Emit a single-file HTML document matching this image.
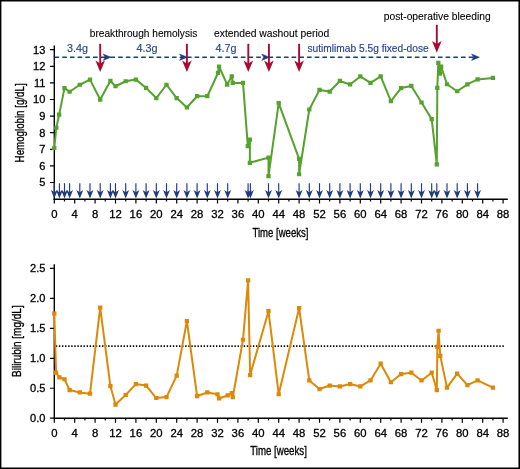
<!DOCTYPE html>
<html lang="en"><head><meta charset="utf-8"><title>Hemoglobin and bilirubin over time</title>
<style>html,body{margin:0;padding:0;background:#fff;overflow:hidden}svg{display:block}</style></head>
<body>
<svg width="520" height="469" viewBox="0 0 520 469" font-family="'Liberation Sans', Arial, Helvetica, sans-serif">
<rect x="0" y="0" width="520" height="469" fill="#fff"/>
<path d="M0 0H520V469H0zM1.4 1.4V467.4H518.45V1.4z" fill="#000" fill-rule="evenodd"/>
<path d="M54.30 45.40V200.00" stroke="#000" stroke-width="1.4" fill="none"/>
<path d="M53.60 199.30H507.8" stroke="#000" stroke-width="1.4" fill="none"/>
<path d="M49.90 49.70H54.30M49.90 66.30H54.30M49.90 82.90H54.30M49.90 99.50H54.30M49.90 116.10H54.30M49.90 132.70H54.30M49.90 149.30H54.30M49.90 165.90H54.30M49.90 182.50H54.30M54.30 199.30v4.3M64.50 199.30v2.2M74.70 199.30v4.3M84.90 199.30v2.2M95.10 199.30v4.3M105.30 199.30v2.2M115.50 199.30v4.3M125.70 199.30v2.2M135.90 199.30v4.3M146.10 199.30v2.2M156.30 199.30v4.3M166.50 199.30v2.2M176.70 199.30v4.3M186.90 199.30v2.2M197.10 199.30v4.3M207.30 199.30v2.2M217.50 199.30v4.3M227.70 199.30v2.2M237.90 199.30v4.3M248.10 199.30v2.2M258.30 199.30v4.3M268.50 199.30v2.2M278.70 199.30v4.3M288.90 199.30v2.2M299.10 199.30v4.3M309.30 199.30v2.2M319.50 199.30v4.3M329.70 199.30v2.2M339.90 199.30v4.3M350.10 199.30v2.2M360.30 199.30v4.3M370.50 199.30v2.2M380.70 199.30v4.3M390.90 199.30v2.2M401.10 199.30v4.3M411.30 199.30v2.2M421.50 199.30v4.3M431.70 199.30v2.2M441.90 199.30v4.3M452.10 199.30v2.2M462.30 199.30v4.3M472.50 199.30v2.2M482.70 199.30v4.3M492.90 199.30v2.2M503.10 199.30v4.3" stroke="#000" stroke-width="1.2" fill="none"/>
<g font-size="10.3" fill="#000" stroke="#000" stroke-width="0.28" text-anchor="end">
<text transform="translate(45.4 53.55) scale(1.075 1)">13</text>
<text transform="translate(45.4 70.15) scale(1.075 1)">12</text>
<text transform="translate(45.4 86.75) scale(1.075 1)">11</text>
<text transform="translate(45.4 103.35) scale(1.075 1)">10</text>
<text transform="translate(45.4 119.95) scale(1.075 1)">9</text>
<text transform="translate(45.4 136.55) scale(1.075 1)">8</text>
<text transform="translate(45.4 153.15) scale(1.075 1)">7</text>
<text transform="translate(45.4 169.75) scale(1.075 1)">6</text>
<text transform="translate(45.4 186.35) scale(1.075 1)">5</text>
</g>
<g font-size="10.3" fill="#000" stroke="#000" stroke-width="0.28" text-anchor="middle">
<text transform="translate(54.30 217.50) scale(1.1 1)">0</text>
<text transform="translate(74.70 217.50) scale(1.1 1)">4</text>
<text transform="translate(95.10 217.50) scale(1.1 1)">8</text>
<text transform="translate(115.50 217.50) scale(1.1 1)">12</text>
<text transform="translate(135.90 217.50) scale(1.1 1)">16</text>
<text transform="translate(156.30 217.50) scale(1.1 1)">20</text>
<text transform="translate(176.70 217.50) scale(1.1 1)">24</text>
<text transform="translate(197.10 217.50) scale(1.1 1)">28</text>
<text transform="translate(217.50 217.50) scale(1.1 1)">32</text>
<text transform="translate(237.90 217.50) scale(1.1 1)">36</text>
<text transform="translate(258.30 217.50) scale(1.1 1)">40</text>
<text transform="translate(278.70 217.50) scale(1.1 1)">44</text>
<text transform="translate(299.10 217.50) scale(1.1 1)">48</text>
<text transform="translate(319.50 217.50) scale(1.1 1)">52</text>
<text transform="translate(339.90 217.50) scale(1.1 1)">56</text>
<text transform="translate(360.30 217.50) scale(1.1 1)">60</text>
<text transform="translate(380.70 217.50) scale(1.1 1)">64</text>
<text transform="translate(401.10 217.50) scale(1.1 1)">68</text>
<text transform="translate(421.50 217.50) scale(1.1 1)">72</text>
<text transform="translate(441.90 217.50) scale(1.1 1)">76</text>
<text transform="translate(462.30 217.50) scale(1.1 1)">80</text>
<text transform="translate(482.70 217.50) scale(1.1 1)">84</text>
<text transform="translate(503.10 217.50) scale(1.1 1)">88</text>
</g>
<path d="M54.30 264.20V418.90" stroke="#000" stroke-width="1.4" fill="none"/>
<path d="M53.60 418.20H507.8" stroke="#000" stroke-width="1.5" fill="none"/>
<path d="M49.90 268.45H54.30M49.90 298.40H54.30M49.90 328.35H54.30M49.90 358.30H54.30M49.90 388.25H54.30M49.90 418.20H54.30M54.30 418.20v4.5M64.50 418.20v2.3M74.70 418.20v4.5M84.90 418.20v2.3M95.10 418.20v4.5M105.30 418.20v2.3M115.50 418.20v4.5M125.70 418.20v2.3M135.90 418.20v4.5M146.10 418.20v2.3M156.30 418.20v4.5M166.50 418.20v2.3M176.70 418.20v4.5M186.90 418.20v2.3M197.10 418.20v4.5M207.30 418.20v2.3M217.50 418.20v4.5M227.70 418.20v2.3M237.90 418.20v4.5M248.10 418.20v2.3M258.30 418.20v4.5M268.50 418.20v2.3M278.70 418.20v4.5M288.90 418.20v2.3M299.10 418.20v4.5M309.30 418.20v2.3M319.50 418.20v4.5M329.70 418.20v2.3M339.90 418.20v4.5M350.10 418.20v2.3M360.30 418.20v4.5M370.50 418.20v2.3M380.70 418.20v4.5M390.90 418.20v2.3M401.10 418.20v4.5M411.30 418.20v2.3M421.50 418.20v4.5M431.70 418.20v2.3M441.90 418.20v4.5M452.10 418.20v2.3M462.30 418.20v4.5M472.50 418.20v2.3M482.70 418.20v4.5M492.90 418.20v2.3M503.10 418.20v4.5" stroke="#000" stroke-width="1.2" fill="none"/>
<g font-size="10.3" fill="#000" stroke="#000" stroke-width="0.28" text-anchor="end">
<text transform="translate(45.4 272.30) scale(1.075 1)">2.5</text>
<text transform="translate(45.4 302.25) scale(1.075 1)">2.0</text>
<text transform="translate(45.4 332.20) scale(1.075 1)">1.5</text>
<text transform="translate(45.4 362.15) scale(1.075 1)">1.0</text>
<text transform="translate(45.4 392.10) scale(1.075 1)">0.5</text>
<text transform="translate(45.4 422.05) scale(1.075 1)">0.0</text>
</g>
<g font-size="10.3" fill="#000" stroke="#000" stroke-width="0.28" text-anchor="middle">
<text transform="translate(54.30 436.70) scale(1.1 1)">0</text>
<text transform="translate(74.70 436.70) scale(1.1 1)">4</text>
<text transform="translate(95.10 436.70) scale(1.1 1)">8</text>
<text transform="translate(115.50 436.70) scale(1.1 1)">12</text>
<text transform="translate(135.90 436.70) scale(1.1 1)">16</text>
<text transform="translate(156.30 436.70) scale(1.1 1)">20</text>
<text transform="translate(176.70 436.70) scale(1.1 1)">24</text>
<text transform="translate(197.10 436.70) scale(1.1 1)">28</text>
<text transform="translate(217.50 436.70) scale(1.1 1)">32</text>
<text transform="translate(237.90 436.70) scale(1.1 1)">36</text>
<text transform="translate(258.30 436.70) scale(1.1 1)">40</text>
<text transform="translate(278.70 436.70) scale(1.1 1)">44</text>
<text transform="translate(299.10 436.70) scale(1.1 1)">48</text>
<text transform="translate(319.50 436.70) scale(1.1 1)">52</text>
<text transform="translate(339.90 436.70) scale(1.1 1)">56</text>
<text transform="translate(360.30 436.70) scale(1.1 1)">60</text>
<text transform="translate(380.70 436.70) scale(1.1 1)">64</text>
<text transform="translate(401.10 436.70) scale(1.1 1)">68</text>
<text transform="translate(421.50 436.70) scale(1.1 1)">72</text>
<text transform="translate(441.90 436.70) scale(1.1 1)">76</text>
<text transform="translate(462.30 436.70) scale(1.1 1)">80</text>
<text transform="translate(482.70 436.70) scale(1.1 1)">84</text>
<text transform="translate(503.10 436.70) scale(1.1 1)">88</text>
</g>
<text transform="translate(24.0 122.9) rotate(-90)" text-anchor="middle" font-size="13.6" fill="#000" stroke="#000" stroke-width="0.35" textLength="79" lengthAdjust="spacingAndGlyphs">Hemoglobin [g/dL]</text>
<text transform="translate(21.1 341.15) rotate(-90)" text-anchor="middle" font-size="13.6" fill="#000" stroke="#000" stroke-width="0.35" textLength="71.6" lengthAdjust="spacingAndGlyphs">Bilirubin [mg/dL]</text>
<text x="280.45" y="236.8" text-anchor="middle" font-size="13.6" fill="#000" stroke="#000" stroke-width="0.35" textLength="56.1" lengthAdjust="spacingAndGlyphs">Time [weeks]</text>
<text x="278.55" y="455.4" text-anchor="middle" font-size="13.6" fill="#000" stroke="#000" stroke-width="0.35" textLength="56.7" lengthAdjust="spacingAndGlyphs">Time [weeks]</text>
<path d="M54.50 57.2H105.40" stroke="#1f3b7c" stroke-width="1.4" stroke-dasharray="4.65 3.05" fill="none"/>
<path d="M110.40 57.2H181.90" stroke="#1f3b7c" stroke-width="1.4" stroke-dasharray="4.65 3.05" fill="none"/>
<path d="M186.90 57.2H263.50" stroke="#1f3b7c" stroke-width="1.4" stroke-dasharray="4.65 3.05" fill="none"/>
<path d="M268.50 57.2H473.50" stroke="#1f3b7c" stroke-width="1.4" stroke-dasharray="4.65 3.05" fill="none"/>
<path d="M111.00 57.20l-7.8 -3.2l2 3.2l-2 3.2z" fill="#1f3b7c" stroke="#1f3b7c" stroke-width="0.5" stroke-linejoin="round"/>
<path d="M187.40 57.20l-7.8 -3.2l2 3.2l-2 3.2z" fill="#1f3b7c" stroke="#1f3b7c" stroke-width="0.5" stroke-linejoin="round"/>
<path d="M269.50 57.20l-7.8 -3.2l2 3.2l-2 3.2z" fill="#1f3b7c" stroke="#1f3b7c" stroke-width="0.5" stroke-linejoin="round"/>
<path d="M479.40 57.20l-7.8 -3.2l2 3.2l-2 3.2z" fill="#1f3b7c" stroke="#1f3b7c" stroke-width="0.5" stroke-linejoin="round"/>
<path d="M54.30 183.2V193" stroke="#1f3b7c" stroke-width="1.15" fill="none"/>
<path d="M54.30 198.6l-3.45 -8.5l3.45 2.2l3.45 -2.2z" fill="#1f3b7c"/>
<path d="M59.40 183.2V193" stroke="#1f3b7c" stroke-width="1.15" fill="none"/>
<path d="M59.40 198.6l-3.45 -8.5l3.45 2.2l3.45 -2.2z" fill="#1f3b7c"/>
<path d="M64.50 183.2V193" stroke="#1f3b7c" stroke-width="1.15" fill="none"/>
<path d="M64.50 198.6l-3.45 -8.5l3.45 2.2l3.45 -2.2z" fill="#1f3b7c"/>
<path d="M69.60 183.2V193" stroke="#1f3b7c" stroke-width="1.15" fill="none"/>
<path d="M69.60 198.6l-3.45 -8.5l3.45 2.2l3.45 -2.2z" fill="#1f3b7c"/>
<path d="M79.80 183.2V193" stroke="#1f3b7c" stroke-width="1.15" fill="none"/>
<path d="M79.80 198.6l-3.45 -8.5l3.45 2.2l3.45 -2.2z" fill="#1f3b7c"/>
<path d="M90.00 183.2V193" stroke="#1f3b7c" stroke-width="1.15" fill="none"/>
<path d="M90.00 198.6l-3.45 -8.5l3.45 2.2l3.45 -2.2z" fill="#1f3b7c"/>
<path d="M100.20 183.2V193" stroke="#1f3b7c" stroke-width="1.15" fill="none"/>
<path d="M100.20 198.6l-3.45 -8.5l3.45 2.2l3.45 -2.2z" fill="#1f3b7c"/>
<path d="M110.40 183.2V193" stroke="#1f3b7c" stroke-width="1.15" fill="none"/>
<path d="M110.40 198.6l-3.45 -8.5l3.45 2.2l3.45 -2.2z" fill="#1f3b7c"/>
<path d="M115.50 183.2V193" stroke="#1f3b7c" stroke-width="1.15" fill="none"/>
<path d="M115.50 198.6l-3.45 -8.5l3.45 2.2l3.45 -2.2z" fill="#1f3b7c"/>
<path d="M125.70 183.2V193" stroke="#1f3b7c" stroke-width="1.15" fill="none"/>
<path d="M125.70 198.6l-3.45 -8.5l3.45 2.2l3.45 -2.2z" fill="#1f3b7c"/>
<path d="M135.90 183.2V193" stroke="#1f3b7c" stroke-width="1.15" fill="none"/>
<path d="M135.90 198.6l-3.45 -8.5l3.45 2.2l3.45 -2.2z" fill="#1f3b7c"/>
<path d="M146.10 183.2V193" stroke="#1f3b7c" stroke-width="1.15" fill="none"/>
<path d="M146.10 198.6l-3.45 -8.5l3.45 2.2l3.45 -2.2z" fill="#1f3b7c"/>
<path d="M156.30 183.2V193" stroke="#1f3b7c" stroke-width="1.15" fill="none"/>
<path d="M156.30 198.6l-3.45 -8.5l3.45 2.2l3.45 -2.2z" fill="#1f3b7c"/>
<path d="M166.50 183.2V193" stroke="#1f3b7c" stroke-width="1.15" fill="none"/>
<path d="M166.50 198.6l-3.45 -8.5l3.45 2.2l3.45 -2.2z" fill="#1f3b7c"/>
<path d="M176.70 183.2V193" stroke="#1f3b7c" stroke-width="1.15" fill="none"/>
<path d="M176.70 198.6l-3.45 -8.5l3.45 2.2l3.45 -2.2z" fill="#1f3b7c"/>
<path d="M186.90 183.2V193" stroke="#1f3b7c" stroke-width="1.15" fill="none"/>
<path d="M186.90 198.6l-3.45 -8.5l3.45 2.2l3.45 -2.2z" fill="#1f3b7c"/>
<path d="M197.10 183.2V193" stroke="#1f3b7c" stroke-width="1.15" fill="none"/>
<path d="M197.10 198.6l-3.45 -8.5l3.45 2.2l3.45 -2.2z" fill="#1f3b7c"/>
<path d="M207.30 183.2V193" stroke="#1f3b7c" stroke-width="1.15" fill="none"/>
<path d="M207.30 198.6l-3.45 -8.5l3.45 2.2l3.45 -2.2z" fill="#1f3b7c"/>
<path d="M217.50 183.2V193" stroke="#1f3b7c" stroke-width="1.15" fill="none"/>
<path d="M217.50 198.6l-3.45 -8.5l3.45 2.2l3.45 -2.2z" fill="#1f3b7c"/>
<path d="M227.70 183.2V193" stroke="#1f3b7c" stroke-width="1.15" fill="none"/>
<path d="M227.70 198.6l-3.45 -8.5l3.45 2.2l3.45 -2.2z" fill="#1f3b7c"/>
<path d="M248.10 183.2V193" stroke="#1f3b7c" stroke-width="1.15" fill="none"/>
<path d="M248.10 198.6l-3.45 -8.5l3.45 2.2l3.45 -2.2z" fill="#1f3b7c"/>
<path d="M250.39 183.2V193" stroke="#1f3b7c" stroke-width="1.15" fill="none"/>
<path d="M250.39 198.6l-3.45 -8.5l3.45 2.2l3.45 -2.2z" fill="#1f3b7c"/>
<path d="M268.50 183.2V193" stroke="#1f3b7c" stroke-width="1.15" fill="none"/>
<path d="M268.50 198.6l-3.45 -8.5l3.45 2.2l3.45 -2.2z" fill="#1f3b7c"/>
<path d="M278.70 183.2V193" stroke="#1f3b7c" stroke-width="1.15" fill="none"/>
<path d="M278.70 198.6l-3.45 -8.5l3.45 2.2l3.45 -2.2z" fill="#1f3b7c"/>
<path d="M299.10 183.2V193" stroke="#1f3b7c" stroke-width="1.15" fill="none"/>
<path d="M299.10 198.6l-3.45 -8.5l3.45 2.2l3.45 -2.2z" fill="#1f3b7c"/>
<path d="M309.30 183.2V193" stroke="#1f3b7c" stroke-width="1.15" fill="none"/>
<path d="M309.30 198.6l-3.45 -8.5l3.45 2.2l3.45 -2.2z" fill="#1f3b7c"/>
<path d="M319.50 183.2V193" stroke="#1f3b7c" stroke-width="1.15" fill="none"/>
<path d="M319.50 198.6l-3.45 -8.5l3.45 2.2l3.45 -2.2z" fill="#1f3b7c"/>
<path d="M329.70 183.2V193" stroke="#1f3b7c" stroke-width="1.15" fill="none"/>
<path d="M329.70 198.6l-3.45 -8.5l3.45 2.2l3.45 -2.2z" fill="#1f3b7c"/>
<path d="M339.90 183.2V193" stroke="#1f3b7c" stroke-width="1.15" fill="none"/>
<path d="M339.90 198.6l-3.45 -8.5l3.45 2.2l3.45 -2.2z" fill="#1f3b7c"/>
<path d="M350.10 183.2V193" stroke="#1f3b7c" stroke-width="1.15" fill="none"/>
<path d="M350.10 198.6l-3.45 -8.5l3.45 2.2l3.45 -2.2z" fill="#1f3b7c"/>
<path d="M360.30 183.2V193" stroke="#1f3b7c" stroke-width="1.15" fill="none"/>
<path d="M360.30 198.6l-3.45 -8.5l3.45 2.2l3.45 -2.2z" fill="#1f3b7c"/>
<path d="M370.50 183.2V193" stroke="#1f3b7c" stroke-width="1.15" fill="none"/>
<path d="M370.50 198.6l-3.45 -8.5l3.45 2.2l3.45 -2.2z" fill="#1f3b7c"/>
<path d="M380.70 183.2V193" stroke="#1f3b7c" stroke-width="1.15" fill="none"/>
<path d="M380.70 198.6l-3.45 -8.5l3.45 2.2l3.45 -2.2z" fill="#1f3b7c"/>
<path d="M390.90 183.2V193" stroke="#1f3b7c" stroke-width="1.15" fill="none"/>
<path d="M390.90 198.6l-3.45 -8.5l3.45 2.2l3.45 -2.2z" fill="#1f3b7c"/>
<path d="M401.10 183.2V193" stroke="#1f3b7c" stroke-width="1.15" fill="none"/>
<path d="M401.10 198.6l-3.45 -8.5l3.45 2.2l3.45 -2.2z" fill="#1f3b7c"/>
<path d="M411.30 183.2V193" stroke="#1f3b7c" stroke-width="1.15" fill="none"/>
<path d="M411.30 198.6l-3.45 -8.5l3.45 2.2l3.45 -2.2z" fill="#1f3b7c"/>
<path d="M421.50 183.2V193" stroke="#1f3b7c" stroke-width="1.15" fill="none"/>
<path d="M421.50 198.6l-3.45 -8.5l3.45 2.2l3.45 -2.2z" fill="#1f3b7c"/>
<path d="M431.70 183.2V193" stroke="#1f3b7c" stroke-width="1.15" fill="none"/>
<path d="M431.70 198.6l-3.45 -8.5l3.45 2.2l3.45 -2.2z" fill="#1f3b7c"/>
<path d="M436.80 183.2V193" stroke="#1f3b7c" stroke-width="1.15" fill="none"/>
<path d="M436.80 198.6l-3.45 -8.5l3.45 2.2l3.45 -2.2z" fill="#1f3b7c"/>
<path d="M447.00 183.2V193" stroke="#1f3b7c" stroke-width="1.15" fill="none"/>
<path d="M447.00 198.6l-3.45 -8.5l3.45 2.2l3.45 -2.2z" fill="#1f3b7c"/>
<path d="M457.20 183.2V193" stroke="#1f3b7c" stroke-width="1.15" fill="none"/>
<path d="M457.20 198.6l-3.45 -8.5l3.45 2.2l3.45 -2.2z" fill="#1f3b7c"/>
<path d="M467.40 183.2V193" stroke="#1f3b7c" stroke-width="1.15" fill="none"/>
<path d="M467.40 198.6l-3.45 -8.5l3.45 2.2l3.45 -2.2z" fill="#1f3b7c"/>
<path d="M477.60 183.2V193" stroke="#1f3b7c" stroke-width="1.15" fill="none"/>
<path d="M477.60 198.6l-3.45 -8.5l3.45 2.2l3.45 -2.2z" fill="#1f3b7c"/>
<path d="M100.20 43.8V67.5" stroke="#aa0a32" stroke-width="1.9" fill="none"/>
<path d="M100.20 72.1l-4.8 -11.6l4.8 2.9l4.8 -2.9z" fill="#aa0a32"/>
<path d="M186.90 43.8V67.5" stroke="#aa0a32" stroke-width="1.9" fill="none"/>
<path d="M186.90 72.1l-4.8 -11.6l4.8 2.9l4.8 -2.9z" fill="#aa0a32"/>
<path d="M248.30 43.8V67.5" stroke="#aa0a32" stroke-width="1.9" fill="none"/>
<path d="M248.30 72.1l-4.8 -11.6l4.8 2.9l4.8 -2.9z" fill="#aa0a32"/>
<path d="M268.91 43.8V67.5" stroke="#aa0a32" stroke-width="1.9" fill="none"/>
<path d="M268.91 72.1l-4.8 -11.6l4.8 2.9l4.8 -2.9z" fill="#aa0a32"/>
<path d="M299.10 43.8V67.5" stroke="#aa0a32" stroke-width="1.9" fill="none"/>
<path d="M299.10 72.1l-4.8 -11.6l4.8 2.9l4.8 -2.9z" fill="#aa0a32"/>
<path d="M436.80 24.8V48.1" stroke="#aa0a32" stroke-width="1.9" fill="none"/>
<path d="M436.80 52.7l-4.8 -11.6l4.8 2.9l4.8 -2.9z" fill="#aa0a32"/>
<g font-size="10.5" fill="#25448a" stroke="#25448a" stroke-width="0.15">
<text x="67.1" y="51.5" textLength="21" lengthAdjust="spacingAndGlyphs">3.4g</text>
<text x="136.5" y="51.5" textLength="21" lengthAdjust="spacingAndGlyphs">4.3g</text>
<text x="215.6" y="51.5" textLength="21" lengthAdjust="spacingAndGlyphs">4.7g</text>
<text x="307.5" y="51.5" textLength="121.2" lengthAdjust="spacingAndGlyphs">sutimlimab 5.5g fixed-dose</text>
</g>
<g font-size="10.7" fill="#000" stroke="#000" stroke-width="0.1">
<text x="89.8" y="36.7" textLength="107.5" lengthAdjust="spacingAndGlyphs">breakthrough hemolysis</text>
<text x="214" y="36.7" textLength="115.2" lengthAdjust="spacingAndGlyphs">extended washout period</text>
<text x="383.8" y="19.5" textLength="106.8" lengthAdjust="spacingAndGlyphs">post-operative bleeding</text>
</g>
<path d="M55.80 346.15H504.6" stroke="#000" stroke-width="1.6" stroke-dasharray="1.4 1.68" fill="none"/>
<polyline points="54.30,148.00 56.34,127.75 59.14,114.64 64.50,88.08 69.60,91.73 79.80,84.76 90.00,79.61 100.20,99.53 110.40,80.94 115.50,86.25 125.70,81.27 135.90,79.61 146.10,87.91 156.30,98.04 166.50,84.76 176.70,98.04 186.90,107.50 197.10,96.21 207.30,96.21 218.01,72.97 219.03,66.50 227.19,84.59 231.78,76.29 232.80,82.93 243.00,82.93 247.84,146.18 249.88,139.70 249.88,162.78 268.50,157.63 268.50,176.06 278.70,103.18 299.10,158.96 299.10,174.23 309.30,109.49 319.50,89.90 329.70,91.56 339.90,80.94 350.10,84.43 360.30,76.46 370.50,82.93 380.70,76.46 390.90,101.03 401.10,88.08 411.30,85.92 421.50,102.52 431.70,119.12 436.80,164.44 437.31,87.91 438.33,62.85 439.86,73.64 441.13,66.66 447.00,84.26 457.20,91.23 467.40,84.43 477.60,79.45 492.90,77.95" fill="none" stroke="#55a22d" stroke-width="2" stroke-linejoin="round"/>
<path d="M52.15 145.90h4.3v4.2h-4.3zM54.19 125.65h4.3v4.2h-4.3zM56.99 112.54h4.3v4.2h-4.3zM62.35 85.98h4.3v4.2h-4.3zM67.45 89.63h4.3v4.2h-4.3zM77.65 82.66h4.3v4.2h-4.3zM87.85 77.51h4.3v4.2h-4.3zM98.05 97.43h4.3v4.2h-4.3zM108.25 78.84h4.3v4.2h-4.3zM113.35 84.15h4.3v4.2h-4.3zM123.55 79.17h4.3v4.2h-4.3zM133.75 77.51h4.3v4.2h-4.3zM143.95 85.81h4.3v4.2h-4.3zM154.15 95.94h4.3v4.2h-4.3zM164.35 82.66h4.3v4.2h-4.3zM174.55 95.94h4.3v4.2h-4.3zM184.75 105.40h4.3v4.2h-4.3zM194.95 94.11h4.3v4.2h-4.3zM205.15 94.11h4.3v4.2h-4.3zM215.86 70.87h4.3v4.2h-4.3zM216.88 64.40h4.3v4.2h-4.3zM225.04 82.49h4.3v4.2h-4.3zM229.63 74.19h4.3v4.2h-4.3zM230.65 80.83h4.3v4.2h-4.3zM240.85 80.83h4.3v4.2h-4.3zM245.69 144.08h4.3v4.2h-4.3zM247.73 137.60h4.3v4.2h-4.3zM247.73 160.68h4.3v4.2h-4.3zM266.35 155.53h4.3v4.2h-4.3zM266.35 173.96h4.3v4.2h-4.3zM276.55 101.08h4.3v4.2h-4.3zM296.95 156.86h4.3v4.2h-4.3zM296.95 172.13h4.3v4.2h-4.3zM307.15 107.39h4.3v4.2h-4.3zM317.35 87.80h4.3v4.2h-4.3zM327.55 89.46h4.3v4.2h-4.3zM337.75 78.84h4.3v4.2h-4.3zM347.95 82.33h4.3v4.2h-4.3zM358.15 74.36h4.3v4.2h-4.3zM368.35 80.83h4.3v4.2h-4.3zM378.55 74.36h4.3v4.2h-4.3zM388.75 98.93h4.3v4.2h-4.3zM398.95 85.98h4.3v4.2h-4.3zM409.15 83.82h4.3v4.2h-4.3zM419.35 100.42h4.3v4.2h-4.3zM429.55 117.02h4.3v4.2h-4.3zM434.65 162.34h4.3v4.2h-4.3zM435.16 85.81h4.3v4.2h-4.3zM436.18 60.75h4.3v4.2h-4.3zM437.71 71.54h4.3v4.2h-4.3zM438.98 64.56h4.3v4.2h-4.3zM444.85 82.16h4.3v4.2h-4.3zM455.05 89.13h4.3v4.2h-4.3zM465.25 82.33h4.3v4.2h-4.3zM475.45 77.35h4.3v4.2h-4.3zM490.75 75.85h4.3v4.2h-4.3z" fill="#55a22d"/>
<polyline points="54.30,313.67 56.08,372.68 59.40,377.47 64.50,379.26 69.60,390.05 79.80,392.44 90.00,393.64 100.20,307.68 110.40,386.03 115.50,404.54 125.70,395.02 135.90,384.06 146.10,385.55 156.30,398.01 166.50,397.06 176.70,375.67 186.90,321.16 197.10,396.04 207.30,392.44 217.50,394.24 219.03,398.43 227.70,395.44 231.78,393.04 232.80,397.24 243.00,339.73 248.10,280.43 250.14,375.07 268.50,311.16 278.70,394.24 299.10,308.16 309.30,380.46 319.50,389.03 329.70,385.55 339.90,386.45 350.10,384.06 360.30,386.45 370.50,380.46 380.70,363.69 390.90,382.26 401.10,374.05 411.30,372.68 421.50,380.46 431.70,372.68 436.80,390.05 437.41,346.92 438.58,330.75 440.27,355.90 447.00,387.65 457.20,373.57 467.40,385.08 477.60,380.46 492.90,387.65" fill="none" stroke="#de8808" stroke-width="2" stroke-linejoin="round"/>
<path d="M52.15 311.57h4.3v4.2h-4.3zM53.93 370.58h4.3v4.2h-4.3zM57.25 375.37h4.3v4.2h-4.3zM62.35 377.16h4.3v4.2h-4.3zM67.45 387.95h4.3v4.2h-4.3zM77.65 390.34h4.3v4.2h-4.3zM87.85 391.54h4.3v4.2h-4.3zM98.05 305.58h4.3v4.2h-4.3zM108.25 383.93h4.3v4.2h-4.3zM113.35 402.44h4.3v4.2h-4.3zM123.55 392.92h4.3v4.2h-4.3zM133.75 381.96h4.3v4.2h-4.3zM143.95 383.45h4.3v4.2h-4.3zM154.15 395.91h4.3v4.2h-4.3zM164.35 394.96h4.3v4.2h-4.3zM174.55 373.57h4.3v4.2h-4.3zM184.75 319.06h4.3v4.2h-4.3zM194.95 393.94h4.3v4.2h-4.3zM205.15 390.34h4.3v4.2h-4.3zM215.35 392.14h4.3v4.2h-4.3zM216.88 396.33h4.3v4.2h-4.3zM225.55 393.34h4.3v4.2h-4.3zM229.63 390.94h4.3v4.2h-4.3zM230.65 395.13h4.3v4.2h-4.3zM240.85 337.63h4.3v4.2h-4.3zM245.95 278.33h4.3v4.2h-4.3zM247.99 372.97h4.3v4.2h-4.3zM266.35 309.06h4.3v4.2h-4.3zM276.55 392.14h4.3v4.2h-4.3zM296.95 306.06h4.3v4.2h-4.3zM307.15 378.36h4.3v4.2h-4.3zM317.35 386.93h4.3v4.2h-4.3zM327.55 383.45h4.3v4.2h-4.3zM337.75 384.35h4.3v4.2h-4.3zM347.95 381.96h4.3v4.2h-4.3zM358.15 384.35h4.3v4.2h-4.3zM368.35 378.36h4.3v4.2h-4.3zM378.55 361.59h4.3v4.2h-4.3zM388.75 380.16h4.3v4.2h-4.3zM398.95 371.95h4.3v4.2h-4.3zM409.15 370.58h4.3v4.2h-4.3zM419.35 378.36h4.3v4.2h-4.3zM429.55 370.58h4.3v4.2h-4.3zM434.65 387.95h4.3v4.2h-4.3zM435.26 344.82h4.3v4.2h-4.3zM436.44 328.65h4.3v4.2h-4.3zM438.12 353.80h4.3v4.2h-4.3zM444.85 385.55h4.3v4.2h-4.3zM455.05 371.47h4.3v4.2h-4.3zM465.25 382.98h4.3v4.2h-4.3zM475.45 378.36h4.3v4.2h-4.3zM490.75 385.55h4.3v4.2h-4.3z" fill="#de8808"/>
</svg>
</body></html>
